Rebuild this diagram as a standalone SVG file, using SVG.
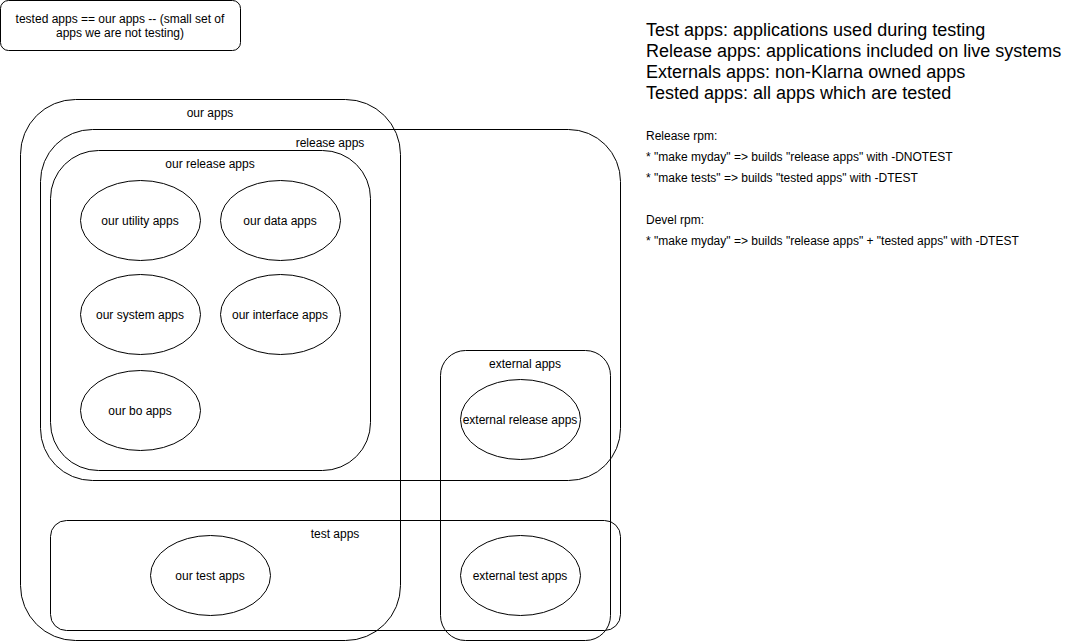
<svg xmlns="http://www.w3.org/2000/svg" width="1082" height="641" viewBox="0 0 1082 641">
<style>
.c{fill:none;stroke:#000;stroke-width:1}
.e{fill:#fff;stroke:#000;stroke-width:1}
text{font-family:"Liberation Sans",Arial,sans-serif;fill:#000}
.l{font-size:12px;text-anchor:middle}
.big{font-size:18px}
.sm{font-size:12px}
</style>
<rect width="1082" height="641" fill="#fff"/>
<g id="note">
<rect x="0.5" y="0.5" width="240" height="50" rx="8" class="c"/>
<text class="l" x="120" y="23">tested apps == our apps -- (small set of</text>
<text class="l" x="120" y="37">apps we are not testing)</text>
</g>
<g id="our-apps">
<rect x="20.5" y="99.5" width="380" height="541" rx="55" class="c"/>
<text class="l" x="210" y="117">our apps</text>
</g>
<g id="release-apps">
<rect x="40.5" y="129.5" width="580" height="351" rx="52" class="c"/>
<text class="l" x="330" y="147">release apps</text>
</g>
<g id="our-release-apps">
<rect x="50.5" y="150.5" width="320" height="320" rx="48" class="c"/>
<text class="l" x="210" y="168">our release apps</text>
</g>
<g id="external-apps">
<rect x="440.5" y="350.5" width="170" height="290" rx="25" class="c"/>
<text class="l" x="525" y="368">external apps</text>
</g>
<g id="test-apps">
<rect x="50.5" y="520.5" width="570" height="110" rx="16" class="c"/>
<text class="l" x="335" y="538">test apps</text>
</g>
<g id="our-utility-apps">
<ellipse cx="140.5" cy="220.5" rx="60" ry="40" class="e"/>
<text class="l" x="140" y="225">our utility apps</text>
</g>
<g id="our-data-apps">
<ellipse cx="280.5" cy="220.5" rx="60" ry="40" class="e"/>
<text class="l" x="280" y="225">our data apps</text>
</g>
<g id="our-system-apps">
<ellipse cx="140.5" cy="314.5" rx="60" ry="40" class="e"/>
<text class="l" x="140" y="319">our system apps</text>
</g>
<g id="our-interface-apps">
<ellipse cx="280.5" cy="314.5" rx="60" ry="40" class="e"/>
<text class="l" x="280" y="319">our interface apps</text>
</g>
<g id="our-bo-apps">
<ellipse cx="140.5" cy="410.5" rx="60" ry="40" class="e"/>
<text class="l" x="140" y="415">our bo apps</text>
</g>
<g id="external-release-apps">
<ellipse cx="520.5" cy="419.5" rx="60" ry="40" class="e"/>
<text class="l" x="520" y="424">external release apps</text>
</g>
<g id="our-test-apps">
<ellipse cx="210.5" cy="575.5" rx="60" ry="40" class="e"/>
<text class="l" x="210" y="580">our test apps</text>
</g>
<g id="external-test-apps">
<ellipse cx="520.5" cy="575.5" rx="60" ry="40" class="e"/>
<text class="l" x="520" y="580">external test apps</text>
</g>
<g id="connectors"></g>
<g id="legend">
<text class="big" x="646" y="36">Test apps: applications used during testing</text>
<text class="big" x="646" y="57">Release apps: applications included on live systems</text>
<text class="big" x="646" y="78">Externals apps: non-Klarna owned apps</text>
<text class="big" x="646" y="99">Tested apps: all apps which are tested</text>
<text class="sm" x="646" y="140">Release rpm:</text>
<text class="sm" x="646" y="161">* "make myday" =&gt; builds "release apps" with -DNOTEST</text>
<text class="sm" x="646" y="182">* "make tests" =&gt; builds "tested apps" with -DTEST</text>
<text class="sm" x="646" y="224">Devel rpm:</text>
<text class="sm" x="646" y="245">* "make myday" =&gt; builds "release apps" + "tested apps" with -DTEST</text>
</g>
</svg>
